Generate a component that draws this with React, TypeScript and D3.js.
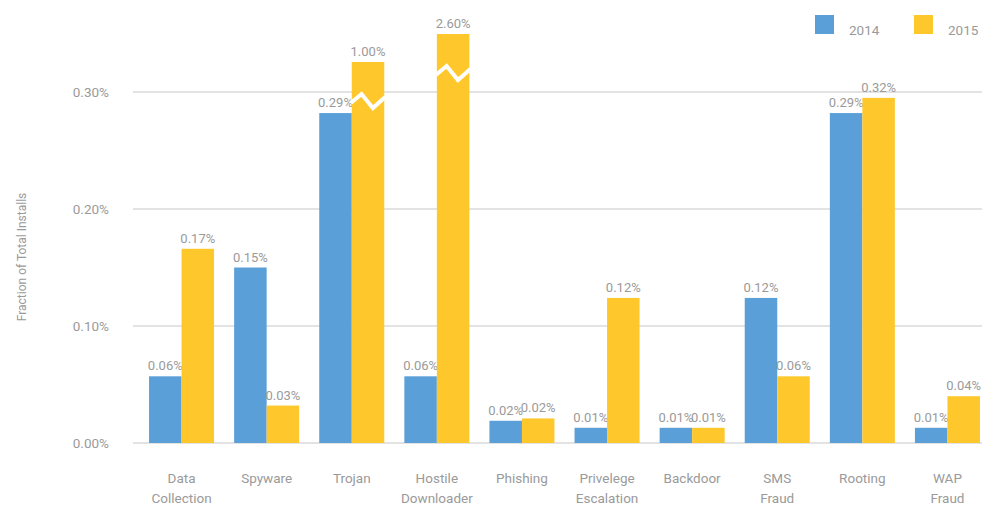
import React, { useEffect, useRef } from 'react';
import * as d3 from 'd3';

// categories (multi-line labels split on \n)
const categories = [
  'Data\nCollection',
  'Spyware',
  'Trojan',
  'Hostile\nDownloader',
  'Phishing',
  'Privelege\nEscalation',
  'Backdoor',
  'SMS\nFraud',
  'Rooting',
  'WAP\nFraud'
];
const years = ['2014', '2015'];

// values in %
const values2014 = [0.057, 0.15, 0.282, 0.057, 0.019, 0.013, 0.013, 0.124, 0.282, 0.013];
const values2015 = [0.166, 0.032, 1.0, 2.6, 0.021, 0.124, 0.013, 0.057, 0.295, 0.04];
// printed labels
const labels2014 = ['0.06%', '0.15%', '0.29%', '0.06%', '0.02%', '0.01%', '0.01%', '0.12%', '0.29%', '0.01%'];
const labels2015 = ['0.17%', '0.03%', '1.00%', '2.60%', '0.02%', '0.12%', '0.01%', '0.06%', '0.32%', '0.04%'];
const yTicks = [0, 0.1, 0.2, 0.3];

const colors = ['#5a9fd8', '#fec82c'];
const textColor = '#9a9a9a';

const App = () => {
  const svgRef = useRef(null);

  useEffect(() => {
    const svg = d3.select(svgRef.current);
    svg.selectAll('*').remove();

    const x = d3
      .scaleBand()
      .domain(categories)
      .range([139, 990])
      .paddingInner(0.236)
      .paddingOuter(0.118);
    const x1 = d3.scaleBand().domain(years).range([0, x.bandwidth()]);
    // axis is broken above 0.30%, so the scale is piecewise
    const y = d3.scaleLinear().domain([0, 0.3, 1.0, 2.6]).range([443, 92, 62, 34]);

    const font = 'Roboto, sans-serif';

    // gridlines
    svg
      .append('g')
      .selectAll('line')
      .data(yTicks)
      .join('line')
      .attr('x1', 133)
      .attr('x2', 982)
      .attr('y1', (d) => y(d))
      .attr('y2', (d) => y(d))
      .attr('stroke', '#e3e3e3')
      .attr('stroke-width', 2);

    // y tick labels
    svg
      .append('g')
      .selectAll('text')
      .data(yTicks)
      .join('text')
      .attr('x', 109)
      .attr('y', (d) => y(d))
      .attr('dy', '0.35em')
      .attr('text-anchor', 'end')
      .attr('font-family', font)
      .attr('font-size', 13.5)
      .attr('fill', textColor)
      .text((d) => d3.format('.2f')(d) + '%');

    // y axis title
    svg
      .append('text')
      .attr('transform', 'translate(26,257) rotate(-90)')
      .attr('text-anchor', 'middle')
      .attr('font-family', font)
      .attr('font-size', 12)
      .attr('fill', textColor)
      .text('Fraction of Total Installs');

    const series = [
      { year: years[0], values: values2014, labels: labels2014, color: colors[0] },
      { year: years[1], values: values2015, labels: labels2015, color: colors[1] }
    ];

    series.forEach((s) => {
      const rows = categories.map((c, i) => ({ c, v: s.values[i], label: s.labels[i] }));
      const g = svg.append('g');
      g.selectAll('rect')
        .data(rows)
        .join('rect')
        .attr('x', (d) => x(d.c) + x1(s.year))
        .attr('y', (d) => y(d.v))
        .attr('width', x1.bandwidth())
        .attr('height', (d) => y(0) - y(d.v))
        .attr('fill', s.color);

      // break marks on bars beyond the axis
      g.selectAll('path')
        .data(rows.filter((d) => d.v > 0.3))
        .join('path')
        .attr('d', (d) => {
          const x0 = x(d.c) + x1(s.year);
          const w = x1.bandwidth();
          const c = y(d.v) + 39;
          return d3.line()([
            [x0 - 1, c + 2],
            [x0 + w * 0.3, c - 7],
            [x0 + w * 0.65, c + 7],
            [x0 + w + 1, c - 4]
          ]);
        })
        .attr('fill', 'none')
        .attr('stroke', 'white')
        .attr('stroke-width', 4);

      g.selectAll('text')
        .data(rows)
        .join('text')
        .attr('x', (d) => x(d.c) + x1(s.year) + x1.bandwidth() / 2)
        .attr('y', (d) => y(d.v) - 6)
        .attr('text-anchor', 'middle')
        .attr('font-family', font)
        .attr('font-size', 13)
        .attr('fill', textColor)
        .text((d) => d.label);
    });

    // x labels
    const xl = svg
      .append('g')
      .selectAll('text')
      .data(categories)
      .join('text')
      .attr('x', (d) => x(d) + x.bandwidth() / 2)
      .attr('y', 483)
      .attr('text-anchor', 'middle')
      .attr('font-family', font)
      .attr('font-size', 13.5)
      .attr('fill', textColor);
    xl.selectAll('tspan')
      .data((d) => d.split('\n'))
      .join('tspan')
      .attr('x', function () {
        return (this.parentNode as any).getAttribute('x');
      })
      .attr('dy', (d, i) => (i === 0 ? 0 : 20))
      .text((d) => d);

    // legend
    const legendX = [815, 914];
    const legend = svg
      .append('g')
      .selectAll('g')
      .data(years)
      .join('g')
      .attr('transform', (d, i) => `translate(${legendX[i]},15)`);
    legend
      .append('rect')
      .attr('width', 19)
      .attr('height', 19)
      .attr('fill', (d, i) => colors[i]);
    legend
      .append('text')
      .attr('x', 34)
      .attr('y', 20)
      .attr('font-family', font)
      .attr('font-size', 13.5)
      .attr('fill', textColor)
      .text((d) => d);
  }, []);

  return (
    <div id="chartArea">
      <svg
        ref={svgRef}
        width={1000}
        height={518}
        style={{ position: 'absolute', left: 0, top: 0, background: 'white' }}
      ></svg>
    </div>
  );
};

export default App;
